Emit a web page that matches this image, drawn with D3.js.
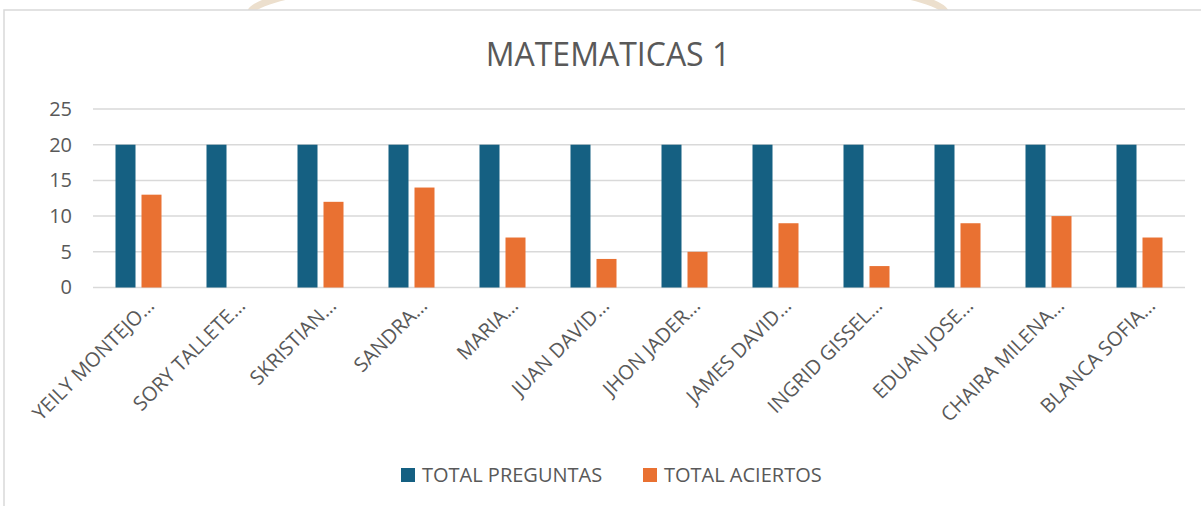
<!DOCTYPE html>
<html>
<head>
<meta charset="utf-8">
<script src="https://cdn.jsdelivr.net/npm/d3@7"></script>
<style>
  html, body { margin: 0; padding: 0; background: #fff; }
  svg { display: block; font-family: "Open Sans", sans-serif; }
</style>
</head>
<body>
<div id="chart"></div>
<script>
// data
var categories = ["YEILY MONTEJO…", "SORY TALLETE…", "SKRISTIAN…", "SANDRA…", "MARIA…", "JUAN DAVID…",
  "JHON JADER…", "JAMES DAVID…", "INGRID GISSEL…", "EDUAN JOSE…", "CHAIRA MILENA…", "BLANCA SOFIA…"];
var series = ["TOTAL PREGUNTAS", "TOTAL ACIERTOS"];
var totalPreguntas = [20, 20, 20, 20, 20, 20, 20, 20, 20, 20, 20, 20];
var totalAciertos = [13, 0, 12, 14, 7, 4, 5, 9, 3, 9, 10, 7];
var yTicks = [0, 5, 10, 15, 20, 25];
var colors = ["#156082", "#E97132"];

var width = 1201, height = 506;

var svg = d3.select("#chart")
  .append("svg")
  .attr("width", width)
  .attr("height", height);

// faded logo arcs peeking above the top edge
svg.append("clipPath").attr("id", "wm")
  .append("rect").attr("x", 0).attr("y", 0).attr("width", width).attr("height", 10);
svg.append("g").attr("clip-path", "url(#wm)")
  .append("ellipse")
    .attr("cx", 598).attr("cy", 14).attr("rx", 348).attr("ry", 40)
    .attr("fill", "none").attr("stroke", "#ecdfcd").attr("stroke-width", 7);

// chart border
svg.append("rect")
  .attr("x", 4).attr("y", 10)
  .attr("width", width + 10).attr("height", height + 10)
  .attr("fill", "none")
  .attr("stroke", "#d9d9d9")
  .attr("stroke-width", 1.5);

// title
svg.append("text")
  .attr("x", 608).attr("y", 66)
  .attr("text-anchor", "middle")
  .attr("font-size", 32)
  .attr("fill", "#595959")
  .text("MATEMATICAS 1");

// scales
var x0 = d3.scaleBand()
  .domain(categories)
  .range([93, 1185]);

var x1 = d3.scaleBand()
  .domain(series)
  .range([x0.bandwidth() / 2 - 23, x0.bandwidth() / 2 + 23])
  .paddingInner(6 / 26);

var y = d3.scaleLinear()
  .domain([0, 25])
  .range([287.5, 109]);

// gridlines
svg.append("g")
  .selectAll("line")
  .data(yTicks)
  .enter()
  .append("line")
    .attr("x1", 93).attr("x2", 1185)
    .attr("y1", function(d) { return y(d); })
    .attr("y2", function(d) { return y(d); })
    .attr("stroke", "#d9d9d9")
    .attr("stroke-width", 1.5);

// y axis labels
var yAxis = svg.append("g")
  .attr("transform", "translate(72,0)")
  .call(d3.axisLeft(y).tickValues(yTicks).tickSize(0).tickPadding(0));
yAxis.select(".domain").remove();
yAxis.selectAll("text")
  .attr("font-size", 20)
  .attr("font-family", "Open Sans, sans-serif")
  .attr("fill", "#595959");

// bars
var rows = categories.map(function(c, i) {
  return { name: c, values: [totalPreguntas[i], totalAciertos[i]] };
});

var groups = svg.append("g")
  .selectAll("g")
  .data(rows)
  .enter()
  .append("g")
    .attr("transform", function(d) { return "translate(" + x0(d.name) + ",0)"; });

groups.selectAll("rect")
  .data(function(d) {
    return series.map(function(s, j) { return { key: s, value: d.values[j], idx: j }; });
  })
  .enter()
  .append("rect")
    .attr("x", function(d) { return x1(d.key); })
    .attr("y", function(d) { return y(d.value); })
    .attr("width", x1.bandwidth())
    .attr("height", function(d) { return y(0) - y(d.value); })
    .attr("fill", function(d) { return colors[d.idx]; });

// x axis labels, rotated
var xAxis = svg.append("g")
  .attr("transform", "translate(0,302)")
  .call(d3.axisBottom(x0).tickSize(0).tickPadding(0));
xAxis.select(".domain").remove();
xAxis.selectAll("text")
  .attr("font-size", 20)
  .attr("font-family", "Open Sans, sans-serif")
  .attr("fill", "#595959")
  .attr("text-anchor", "end")
  .attr("x", 0)
  .attr("y", 0)
  .attr("dy", "0.35em")
  .attr("transform", "translate(12,0) rotate(-45)");

// legend
var legendX = [401, 643];
var legend = svg.append("g")
  .selectAll("g")
  .data(series)
  .enter()
  .append("g")
    .attr("transform", function(d, i) { return "translate(" + legendX[i] + ",468)"; });
legend.append("rect")
  .attr("width", 14).attr("height", 14)
  .attr("fill", function(d, i) { return colors[i]; });
legend.append("text")
  .attr("x", 21).attr("y", 7)
  .attr("dy", "0.35em")
  .attr("font-size", 20)
  .attr("fill", "#595959")
  .text(function(d) { return d; });
</script>
</body>
</html>
